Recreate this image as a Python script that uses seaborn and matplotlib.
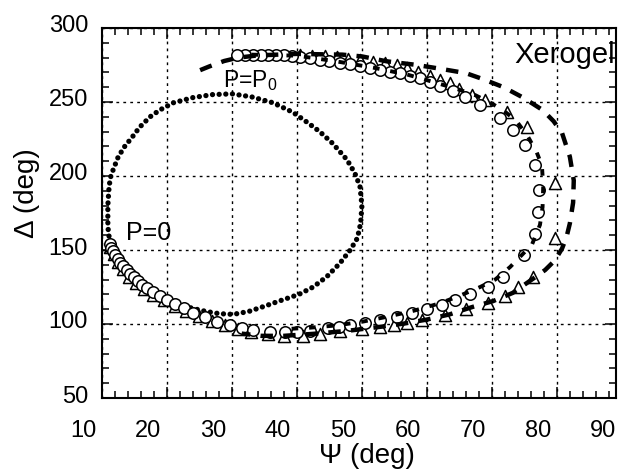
# Xerogel ellipsometric porosimetry: Psi-Delta trajectory
import matplotlib
matplotlib.use("Agg")
import matplotlib.pyplot as plt
import matplotlib.transforms as mtransforms
from matplotlib.ticker import MultipleLocator
import seaborn as sns

# data (Psi, Delta in degrees)
dots_psi = [11.3, 11.0, 10.9, 10.9, 10.9, 11.0, 11.1, 11.3, 11.7, 12.5, 13.5, 14.6, 15.8, 17.4,
            18.9, 21.0, 24.0, 27.0, 30.0, 33.0, 36.3, 39.4, 41.5, 43.5, 45.5, 47.7, 48.9, 49.7,
            50.0, 49.8, 49.3, 48.2, 46.6, 44.6, 42.5, 40.3, 37.6, 35.0, 32.6, 30.2, 28.0, 26.0,
            24.0, 22.0, 20.0, 18.3, 16.6, 15.0, 13.6, 12.5, 11.8, 11.3]
dots_delta = [155, 161, 167, 174, 180, 187, 193, 199, 204, 213, 220, 226, 233, 240,
              244.6, 249.5, 253, 255, 255.5, 253.5, 249.5, 243, 236.5, 230, 222, 211, 202, 193,
              180, 168, 158, 150, 141, 132, 125, 120, 116, 112, 108.5, 106.5, 107, 108.5,
              110.5, 113, 116, 120, 124.5, 130, 136, 142, 148, 155]

circ_psi = [11.2, 11.4, 11.7, 12.0, 12.4, 12.8, 13.3, 13.8, 14.3, 14.9, 15.5, 16.2, 17.0, 17.9,
            18.9, 20.0, 21.2, 22.6, 24.0, 25.8, 27.7, 29.7, 31.5, 33.3, 35.8, 38.2, 40.0, 42.0,
            44.8, 46.5, 48.2, 50.5, 52.8, 55.4, 57.7, 60.0, 62.3, 64.3, 66.6, 69.4, 71.7, 74.9,
            76.6, 77.1, 77.2, 76.6, 75.1, 73.2, 71.2, 68.2, 65.8, 64.0, 62.0, 60.5, 58.9, 57.4,
            55.8, 54.3, 52.8, 51.2, 49.7, 48.2, 46.6, 45.0, 43.5, 42.0, 40.5, 39.2, 38.0, 36.8,
            35.6, 34.4, 33.2, 32.0, 30.8]
circ_delta = [154, 151.5, 149, 146.5, 144, 141.5, 139, 136.5, 134, 131.5, 129, 126.5, 124, 121.5,
              119, 116.5, 113.5, 110.5, 107.5, 104.5, 101.5, 99.3, 97.2, 95.8, 94.6, 94.4, 94.6, 95.5,
              97, 97.8, 99, 100.5, 103, 105, 107.4, 110, 112.8, 116, 120, 125, 132, 146.6,
              161, 175.7, 190.5, 207.4, 221, 231, 239, 248, 253.4, 257.5, 260.5, 263.5, 266, 267.6,
              269.5, 270.5, 271.8, 273, 274.2, 275.5, 276.5, 277.4, 278.6, 279.8, 280.6, 281.3, 281.8, 282,
              282, 282, 282, 282, 281.8]

tri_psi = [11.3, 11.8, 12.4, 13.2, 14.2, 15.3, 16.5, 17.9, 19.5, 21.2, 23.0, 25.0, 27.0, 29.0,
           31.0, 33.0, 35.5, 38.0, 41.0, 43.5, 46.6, 50.0, 52.8, 55.0, 57.0, 59.2, 62.8, 66.0,
           69.4, 72.0, 74.0, 76.3, 79.7, 79.7, 75.4, 72.3, 69.0, 67.0, 65.0, 63.5, 62.0, 60.5,
           58.6, 56.9, 55.4, 53.5, 51.7, 49.7, 47.8, 46.2, 44.3, 42.3, 40.5]
tri_delta = [152, 147, 142, 137, 132, 127.5, 123.5, 119.5, 116, 112.5, 109, 105.5, 102, 99,
             96.5, 94.5, 93, 92.2, 92, 93, 95, 96.5, 98, 99.3, 101, 102.7, 106, 110,
             114, 119, 125, 131.8, 158, 195, 233, 243, 251.4, 254.7, 259, 262.8, 265, 267.6,
             270.3, 273, 275, 276.4, 277.2, 278.4, 279.2, 280.2, 280.8, 281.4, 281.8]

outer_psi = [25.1, 26.5, 28.8, 31.0, 34.0, 40.0, 47.0, 50.0, 53.8, 58.5, 62.0, 66.0, 68.6, 71.8,
             74.8, 77.8, 79.5, 80.8, 82.0, 82.6, 82.5, 82.0, 81.5, 80.8, 79.7, 78.2, 76.3, 73.2,
             70.2, 67.0, 63.5, 60.0, 56.5, 53.2, 48.0, 43.0, 38.0, 34.5, 31.5]
outer_delta = [271.5, 274, 277.7, 280, 281.5, 282.5, 282, 280.8, 277.5, 275, 272.5, 269.5, 265.5, 260,
               253, 244.6, 237, 229, 213, 197, 182, 168, 159, 151, 143, 136.5, 130.5, 121,
               115.5, 111.5, 106.5, 103, 100.3, 98.3, 95.5, 93.5, 92, 92, 93.5]

inner_psi = [33.0, 40.0, 46.0, 52.0, 57.0, 61.0, 64.5, 67.5, 70.0, 72.0, 73.8, 75.5, 76.9, 77.7,
             77.9, 77.8, 77.4, 76.2, 74.8, 72.8, 70.5, 68.2, 65.0, 62.0, 58.0, 54.0, 50.0, 46.0,
             42.0, 38.0]
inner_delta = [282, 281.3, 277.5, 273, 268.5, 263.5, 259, 254.5, 249, 243.5, 237, 227, 216, 207,
               193, 179, 167, 154, 147.5, 138.5, 130, 125, 119, 114, 109, 105, 101.5, 99,
               97.5, 96.5]

x_ticks = [10, 20, 30, 40, 50, 60, 70, 80, 90]
y_ticks = [50, 100, 150, 200, 250, 300]

sns.set_style("ticks")
plt.rcParams['font.family'] = ['Liberation Sans', 'DejaVu Sans']
plt.rcParams['mathtext.default'] = 'regular'
plt.rcParams['text.color'] = 'black'
plt.rcParams['axes.labelcolor'] = 'black'
plt.rcParams['xtick.color'] = 'black'
plt.rcParams['ytick.color'] = 'black'

fig = plt.figure(figsize=(6.22, 4.73), dpi=100)
ax = fig.add_axes([102 / 622, 1 - 398 / 473, (616 - 102) / 622, (398 - 28) / 473])

# curves
sns.lineplot(x=dots_psi, y=dots_delta, sort=False, estimator=None, ax=ax, color="black",
             lw=3.8, linestyle=(0, (0.01, 1.25)), dash_capstyle="round", zorder=2)
sns.scatterplot(x=tri_psi, y=tri_delta, marker="^", s=75, facecolor="white",
                edgecolor="black", linewidth=1.1, ax=ax, zorder=3)
sns.scatterplot(x=circ_psi, y=circ_delta, marker="o", s=68, facecolor="white",
                edgecolor="black", linewidth=1.1, ax=ax, zorder=4)
sns.lineplot(x=outer_psi, y=outer_delta, sort=False, estimator=None, ax=ax, color="black",
             lw=3.2, linestyle=(0, (2.8, 2.3)), zorder=5)
sns.lineplot(x=inner_psi, y=inner_delta, sort=False, estimator=None, ax=ax, color="black",
             lw=2.8, linestyle=(0, (1.7, 2.8)), zorder=5)

ax.set_xlim(10, 89.1)
ax.set_ylim(50, 300)

# ticks
ax.set_xticks(x_ticks[:-1])
ax.set_yticks(y_ticks)
ax.xaxis.set_minor_locator(MultipleLocator(2))
ax.yaxis.set_minor_locator(MultipleLocator(10))
ax.tick_params(which="both", direction="in", top=True, right=True, width=1.1, color="black")
ax.tick_params(which="major", length=8)
ax.tick_params(which="minor", length=5)
ax.tick_params(axis="x", labelbottom=False)
ax.tick_params(axis="y", labelsize=17, pad=10)
for lab in ax.get_yticklabels():
    lab.set_transform(lab.get_transform() + mtransforms.ScaledTranslation(0, 4 / 100, fig.dpi_scale_trans))

# x tick labels sit a bit left of the tick marks in the original
for v in x_ticks:
    ax.annotate(str(v), xy=(v, 0), xycoords=("data", "axes fraction"),
                xytext=(-19 * 0.72, -16), textcoords="offset points",
                ha="center", va="top", fontsize=17, annotation_clip=False)

for sp in ax.spines.values():
    sp.set_linewidth(1.5)
    sp.set_color("black")

ax.grid(True, which="major", color="black", linestyle=(0, (2, 3)), linewidth=1.0)

ax.set_xlabel("Ψ (deg)", fontsize=20)
ax.set_ylabel("Δ (deg)", fontsize=20)
ax.xaxis.set_label_coords(0.516, -0.122)
ax.yaxis.set_label_coords(-0.12, 0.555)

ax.text(17.1, 161.5, "P=0", fontsize=18, ha="center", va="center", zorder=6)
ax.text(28.6, 260, "P=P$_0$", fontsize=16.5, ha="left", va="baseline", zorder=6)
ax.text(73.5, 276.4, "Xerogel", fontsize=21, ha="left", va="baseline", clip_on=True, zorder=6)

fig.savefig("out.png", dpi=100)
